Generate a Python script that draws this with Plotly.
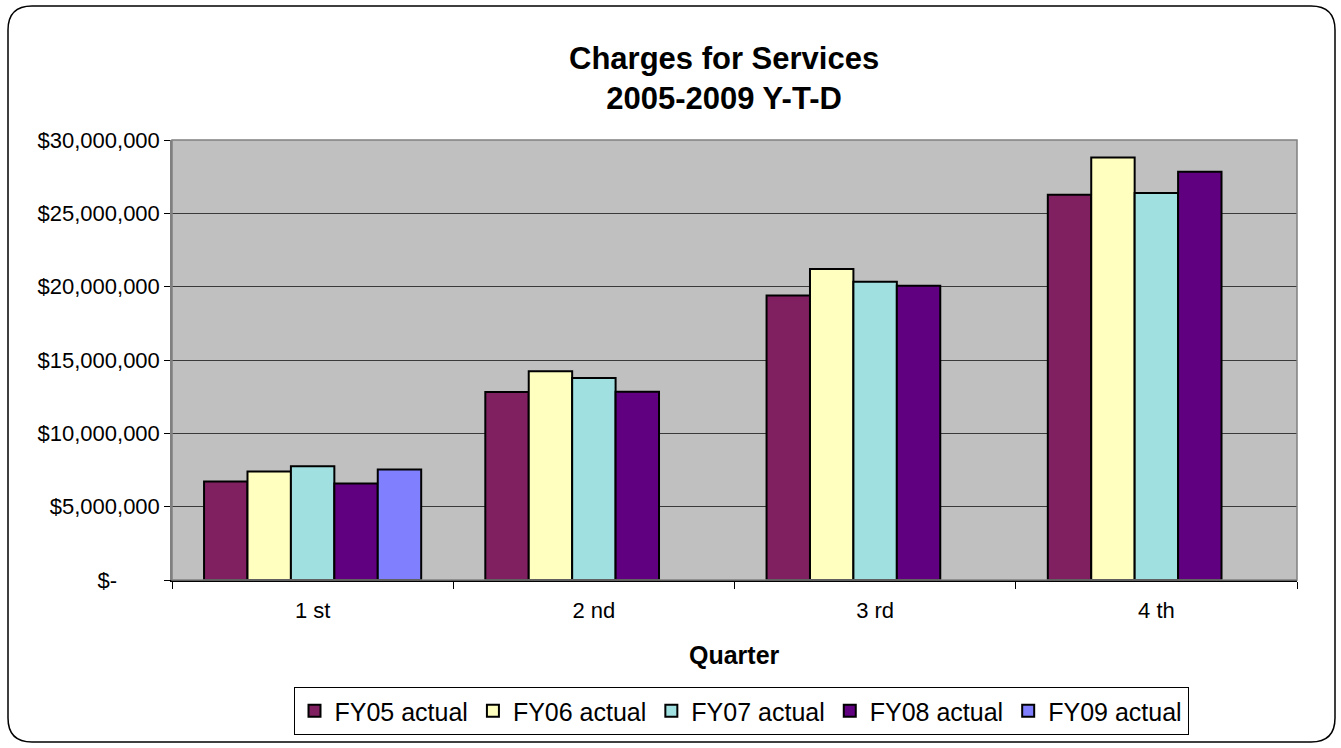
import plotly.graph_objects as go

quarters = ["1 st", "2 nd", "3 rd", "4 th"]
fy05 = [6710000, 12810000, 19390000, 26270000]
fy06 = [7390000, 14240000, 21200000, 28810000]
fy07 = [7760000, 13780000, 20340000, 26390000]
fy08 = [6580000, 12830000, 20070000, 27840000]
fy09 = [7530000, None, None, None]

series_names = ["FY05 actual", "FY06 actual", "FY07 actual", "FY08 actual", "FY09 actual"]
series_colors = ["#802060", "#FFFFC0", "#A0E0E0", "#600080", "#8080FF"]

y_tickvals = [0, 5000000, 10000000, 15000000, 20000000, 25000000, 30000000]
y_ticktext = ["$-" + "\u00a0" * 7, "$5,000,000", "$10,000,000", "$15,000,000",
              "$20,000,000", "$25,000,000", "$30,000,000"]

W, H = 1341, 748
L, R, T, B = 172, 1297, 140, 580
FONT = "Liberation Sans, Arial, sans-serif"


def px(x):
    return (x - L) / (R - L)


def py(y):
    return (B - y) / (B - T)


fig = go.Figure()
for name, vals, col in zip(series_names, [fy05, fy06, fy07, fy08, fy09], series_colors):
    fig.add_trace(go.Bar(x=quarters, y=vals, name=name,
                         marker=dict(color=col, line=dict(color="black", width=2))))

# rounded outer border of the chart area
x0, x1, y0, y1, r = 8, 1335, 6, 742, 24
path = (f"M {px(x0 + r)} {py(y0)} L {px(x1 - r)} {py(y0)} "
        f"Q {px(x1)} {py(y0)} {px(x1)} {py(y0 + r)} L {px(x1)} {py(y1 - r)} "
        f"Q {px(x1)} {py(y1)} {px(x1 - r)} {py(y1)} L {px(x0 + r)} {py(y1)} "
        f"Q {px(x0)} {py(y1)} {px(x0)} {py(y1 - r)} L {px(x0)} {py(y0 + r)} "
        f"Q {px(x0)} {py(y0)} {px(x0 + r)} {py(y0)} Z")
fig.add_shape(type="path", path=path, xref="paper", yref="paper",
              line=dict(color="black", width=1.5), layer="below")
fig.add_shape(type="rect", x0=0, x1=1, y0=0, y1=1, xref="paper", yref="paper",
              line=dict(color="#808080", width=1.5))

fig.add_annotation(text="<b>Charges for Services<br>2005-2009 Y-T-D</b>",
                   x=px(724), y=py(79), xref="paper", yref="paper",
                   showarrow=False, font=dict(size=31, color="black", family=FONT),
                   xanchor="center", yanchor="middle")
fig.add_annotation(text="<b>Quarter</b>", x=px(734), y=py(655), xref="paper", yref="paper",
                   showarrow=False, font=dict(size=25, color="black", family=FONT),
                   xanchor="center", yanchor="middle")

fig.update_layout(
    width=W, height=H,
    margin=dict(l=L, r=W - R, t=T, b=H - B),
    paper_bgcolor="white",
    plot_bgcolor="#C0C0C0",
    barmode="group",
    bargap=0.228,
    bargroupgap=0,
    font=dict(family=FONT, color="black"),
    legend=dict(orientation="h", x=px(741), y=py(687), xanchor="center", yanchor="top",
                bordercolor="black", borderwidth=1, font=dict(size=25),
                itemwidth=30, itemclick=False),
)
fig.update_xaxes(showgrid=False, showline=True, linecolor="black", linewidth=1.5,
                 ticks="outside", tickson="boundaries", ticklen=7, tickcolor="black",
                 tickfont=dict(size=22), ticklabelstandoff=10)
fig.update_yaxes(range=[0, 30000000], tickvals=y_tickvals, ticktext=y_ticktext,
                 showgrid=True, gridcolor="#3a3a3a", gridwidth=1,
                 showline=True, linecolor="#808080", linewidth=1.5,
                 ticks="outside", ticklen=6, tickcolor="black",
                 tickfont=dict(size=22), zeroline=False)

fig.write_html("out.html", config={"displayModeBar": False},
               post_script="document.body.style.margin='0';")
